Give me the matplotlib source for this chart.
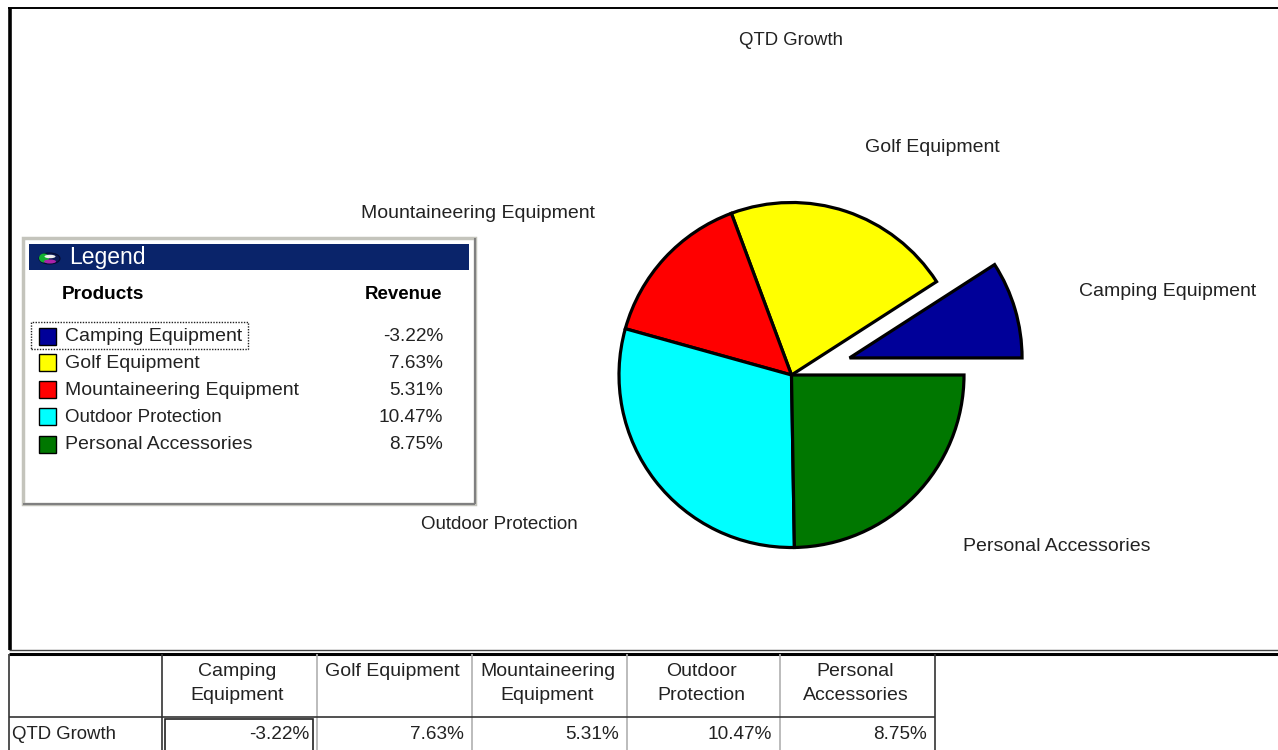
import matplotlib
matplotlib.use("Agg")
import matplotlib.pyplot as plt
from matplotlib.patches import Rectangle, Ellipse

products = ["Camping Equipment", "Golf Equipment", "Mountaineering Equipment", "Outdoor Protection", "Personal Accessories"]
growth = [-3.22, 7.63, 5.31, 10.47, 8.75]
growth_labels = ["-3.22%", "7.63%", "5.31%", "10.47%", "8.75%"]
header_labels = ["Camping\nEquipment", "Golf Equipment", "Mountaineering\nEquipment", "Outdoor\nProtection", "Personal\nAccessories"]
colors = ["#000099", "#ffff00", "#ff0000", "#00ffff", "#007700"]
explode = [60.5, 0, 0, 0, 0]  # pie takes this in data units here

plt.rcParams['font.family'] = ['Liberation Sans', 'DejaVu Sans']
H = 750
TXT = "#222222"

fig = plt.figure(figsize=(12.78, 7.5), dpi=100)
ax = fig.add_axes([0, 0, 1, 1])

# pie, angles come from the absolute values
ax.pie([abs(v) for v in growth], colors=colors, explode=explode, startangle=0, counterclock=True,
       center=(791.5, H - 375), radius=172.5, wedgeprops=dict(edgecolor="black", linewidth=2.3))

ax.set_xlim(0, 1278)
ax.set_ylim(0, H)
ax.set_aspect("equal")
ax.axis("off")

def line(x0, y0, x1, y1, c="black", lw=1.0):
    ax.plot([x0, x1], [H - y0, H - y1], color=c, lw=lw, solid_capstyle="butt", zorder=5)

def txt(x, y, s, ha="left", size=14, **kw):
    ax.text(x, H - y - 1.6, s, ha=ha, va="center", fontsize=size, color=kw.pop("color", TXT), zorder=7, **kw)

# outer frame
line(8, 7.8, 1278, 7.8, lw=1.4)
line(9.5, 8, 9.5, 650, lw=2.6)
line(9, 650, 1278, 650, c="#444444", lw=1.0)
line(9, 653.5, 1278, 653.5, lw=2.2)

# pie labels
txt(791, 39, "QTD Growth", ha="center", size=13.4)
txt(932, 145.5, products[1], ha="center")
txt(478, 211.5, products[2], ha="center")
txt(1168, 289.5, products[0], ha="center")
txt(499, 523, products[3], ha="center", size=13.5)
txt(1057, 545, products[4], ha="center")

# legend window
ax.add_patch(Rectangle((23, H - 504), 452, 266, fc="white", ec="#c4c4bc", lw=2.5, zorder=3))
line(23, 503.5, 475, 503.5, c="#808080", lw=1.5)
line(474.5, 238, 474.5, 504, c="#808080", lw=1.5)
ax.add_patch(Rectangle((29, H - 270), 440, 26, fc="#0a246a", ec="none", zorder=4))
# small icon in the title bar
ax.add_patch(Ellipse((49.5, H - 258.5), 21, 11, fc="#0b1a55", ec="#050a30", lw=0.8, zorder=5))
ax.add_patch(Ellipse((44, H - 258), 10, 9, fc="#12b030", ec="none", zorder=6))
ax.add_patch(Ellipse((50, H - 261.5), 12, 4, fc="#aa22aa", ec="none", zorder=7))
ax.add_patch(Ellipse((50, H - 256.5), 11, 3.5, fc="#eeeeee", ec="none", zorder=7))
txt(69, 256, "Legend", size=16.5, color="white")
txt(62, 292.5, "Products", size=13.7, fontweight="bold", color="black")
txt(442, 292.5, "Revenue", ha="right", size=13.4, fontweight="bold", color="black")

row_y = [335, 361.5, 388.5, 415.5, 443]
for name, val, col, y in zip(products, growth_labels, colors, row_y):
    ax.add_patch(Rectangle((38.5, H - y - 9.5), 17, 17, fc=col, ec="black", lw=1.0, zorder=5))
    txt(65, y, name, size=13.5 if name == "Outdoor Protection" else 14)
    txt(443, y, val, ha="right", size=13.7)
ax.add_patch(Rectangle((31, H - 349), 217, 27, fc="none", ec="#222222", lw=1.0, ls=(0, (1, 1)), zorder=6))

# table at the bottom
col_x = [162, 317, 472, 627, 780, 935]
for i, x in enumerate(col_x):
    edge = i == 0 or i == len(col_x) - 1
    line(x, 654, x, 750, c="#333333" if edge else "#b0b0b0", lw=1.2)
line(9, 654, 9, 750, c="#333333", lw=1.2)
line(9, 717, 935, 717, c="#333333", lw=1.2)
for i, (lab, val) in enumerate(zip(header_labels, growth_labels)):
    parts = lab.split("\n")
    cx = (col_x[i] + col_x[i + 1]) / 2 - 2
    txt(cx, 670, parts[0], ha="center")
    if len(parts) == 2:
        txt(cx, 693.5, parts[1], ha="center")
    txt(col_x[i + 1] - 8, 732.5, val, ha="right", size=13.7)
txt(12, 732.5, "QTD Growth", size=13.4)
ax.add_patch(Rectangle((165, H - 760), 148, 41, fc="none", ec="#222222", lw=1.2, zorder=6))

fig.savefig("out.png", dpi=100)
